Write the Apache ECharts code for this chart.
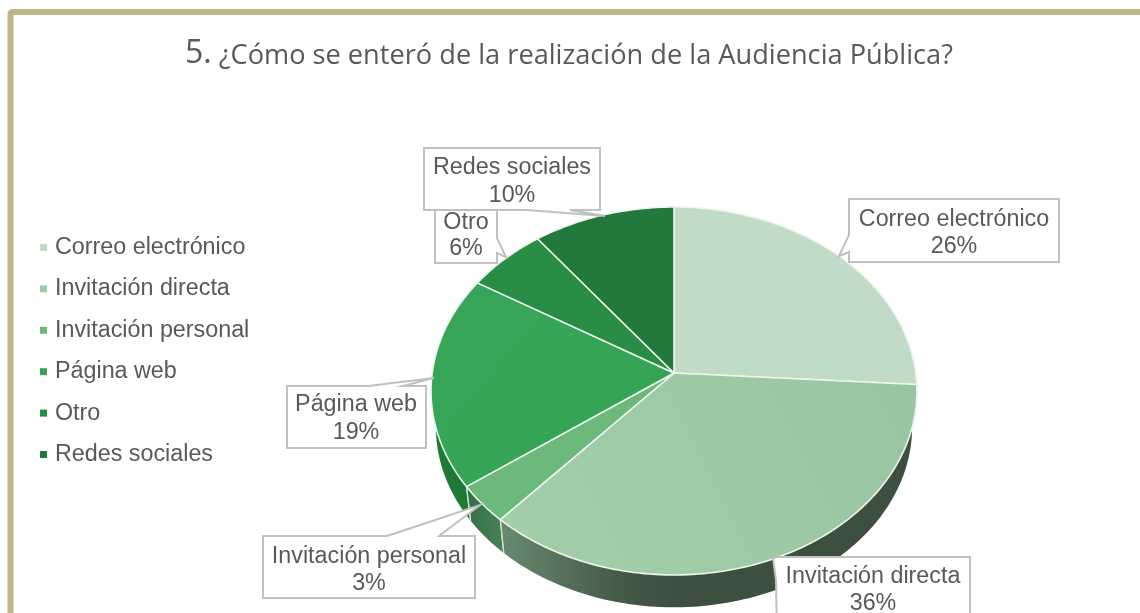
<!DOCTYPE html>
<html><head><meta charset="utf-8">
<style>html,body{margin:0;padding:0;background:#fff;overflow:hidden}#c{width:1140px;height:613px}</style>
<script src="https://cdn.jsdelivr.net/npm/echarts@6/dist/echarts.min.js"></script>
</head><body><div id="c"></div>
<script>
const categories = ['Correo electrónico','Invitación directa','Invitación personal','Página web','Otro','Redes sociales'];
const values = [26.0, 35.6, 3.4, 18.7, 5.9, 10.4];
const colors = ['#c1dcc6','#9fcba6','#6cb97c','#35a555','#2a8d45','#217a3c'];
const titleNumber = '5.';
const titleText = ' ¿Cómo se enteró de la realización de la Audiencia Pública?';

const chart = echarts.init(document.getElementById('c'), null, {renderer:'canvas'});
const G = echarts.graphic;
const total = values.reduce((a,b)=>a+b,0);
// Projection of the tilted disc onto the page
const P = {cx:674, cy:373, a:241.8, b:182.2, k:0.0978};
function upper(theta){
  const u=Math.sin(theta), v=-Math.cos(theta), d=1-P.k*v;
  return [P.cx+P.a*u/d, P.cy+P.b*v/d];
}
function lower(theta){
  const p=upper(theta);
  return [674+(p[0]-674)*0.98, 427+(p[1]-391)*0.98];
}
const TAU=Math.PI*2;
function range(i){
  let s=0; for(let j=0;j<i;j++) s+=values[j];
  return [s/total*TAU,(s+values[i])/total*TAU];
}
function arc(fn,a,b){
  const n=Math.max(2,Math.ceil((b-a)/0.02)); const r=[];
  for(let i=0;i<=n;i++) r.push(fn(a+(b-a)*i/n));
  return r;
}
const wallFills = [
  null,
  new G.LinearGradient(0,0,1,0,[{offset:0,color:'#688a70'},{offset:0.28,color:'#465a48'},{offset:0.42,color:'#3d4f3f'},{offset:1,color:'#3d4f3f'}]),
  new G.LinearGradient(0,0,1,0,[{offset:0,color:'#336f44'},{offset:1,color:'#4a8258'}]),
  '#1f7a35', null, null
];
const faceFills = [
  '#c1dcc6',
  new G.LinearGradient(0,1,1,0,[{offset:0,color:'#a3ceaa'},{offset:1,color:'#99c6a2'}]),
  '#6cb97c',
  new G.LinearGradient(0,0,1,1,[{offset:0,color:'#38a658'},{offset:1,color:'#33a354'}]),
  '#2a8d45','#217a3c'
];
// Callout boxes: outline of the box with its wedge, and the two text line centres
const callouts = [
  {pts:[[849,199],[1059,199],[1059,262],[849,262],[849,252],[839,256],[849,235]], tx:954, ty:[220,247]},
  {pts:[[777,557],[970,557],[970,640],[777,640],[776,580],[773,558]], tx:873, ty:[577,604]},
  {pts:[[263,536],[387,536],[480,505],[439,536],[475,536],[475,598],[263,598]], tx:369, ty:[557,584]},
  {pts:[[287,386],[368,386],[434,378],[403,386],[426,386],[426,448],[287,448]], tx:356, ty:[405,433]},
  {pts:[[435,210],[497,210],[497,238],[506,257],[497,253],[497,263],[435,263]], tx:466, ty:[223,249]},
  {pts:[[424,148],[600,148],[600,210],[570,210],[605,216],[527,210],[424,210]], tx:512, ty:[168,196]}
];
function render(i){
  return function(params, api){
    const [a,b]=range(i);
    const ch=[];
    if(wallFills[i]){
      const t=arc(upper,a,b), l=arc(lower,a,b).reverse();
      ch.push({type:'polygon',z2:1,shape:{points:t.concat(l)},style:{fill:wallFills[i]}});
      ch.push({type:'line',z2:2,shape:{x1:upper(a)[0],y1:upper(a)[1],x2:lower(a)[0],y2:lower(a)[1]},style:{stroke:'#d5ddd6',lineWidth:1.2}});
      ch.push({type:'line',z2:2,shape:{x1:upper(b)[0],y1:upper(b)[1],x2:lower(b)[0],y2:lower(b)[1]},style:{stroke:'#d5ddd6',lineWidth:1.2}});
    }
    const face=[[P.cx,P.cy]].concat(arc(upper,a,b));
    ch.push({type:'polygon',z2:5,shape:{points:face},style:{fill:faceFills[i],stroke:'#eef4ee',lineWidth:1.6,lineJoin:'round'}});
    const c=callouts[i];
    ch.push({type:'polygon',z2:20+i*2,shape:{points:c.pts},style:{fill:'#fff',stroke:'#c0c0c0',lineWidth:2}});
    const txt={fill:'#595959',fontSize:23.3,fontFamily:'"Liberation Sans"',align:'center',verticalAlign:'middle'};
    ch.push({type:'text',z2:21+i*2,style:Object.assign({x:c.tx,y:c.ty[0],text:categories[i]},txt)});
    ch.push({type:'text',z2:21+i*2,style:Object.assign({x:c.tx,y:c.ty[1],text:Math.round(values[i]/total*100)+'%'},txt)});
    return {type:'group',children:ch};
  };
}
chart.setOption({
  animation:false,
  backgroundColor:'#fff',
  title:{
    text:'{n|'+titleNumber+'}{t|'+titleText+'}',
    left:185, top:38, padding:0,
    textStyle:{fontWeight:'normal',rich:{
      n:{fontFamily:'"Open Sans"',fontWeight:'normal',fontSize:32,color:'#595959',verticalAlign:'bottom'},
      t:{fontFamily:'"Open Sans"',fontWeight:'normal',fontSize:27.2,color:'#595959',verticalAlign:'bottom'}
    }}
  },
  legend:{
    orient:'vertical', left:40, top:235, padding:0,
    itemWidth:7, itemHeight:7, itemGap:16.4, icon:'rect',
    selectedMode:false,
    data:categories,
    textStyle:{fontFamily:'"Liberation Sans"',fontSize:23.3,color:'#595959',height:25,lineHeight:25,padding:[0,0,0,3]}
  },
  graphic:[{type:'rect',z:-1,shape:{x:10.5,y:12,width:1200,height:700,r:2},style:{fill:'none',stroke:'#bdb789',lineWidth:6}}],
  series:categories.map((name,i)=>({
    type:'custom', name, coordinateSystem:'none', silent:true,
    itemStyle:{color:colors[i]},
    data:[values[i]], renderItem:render(i), clip:false
  }))
});
</script></body></html>
